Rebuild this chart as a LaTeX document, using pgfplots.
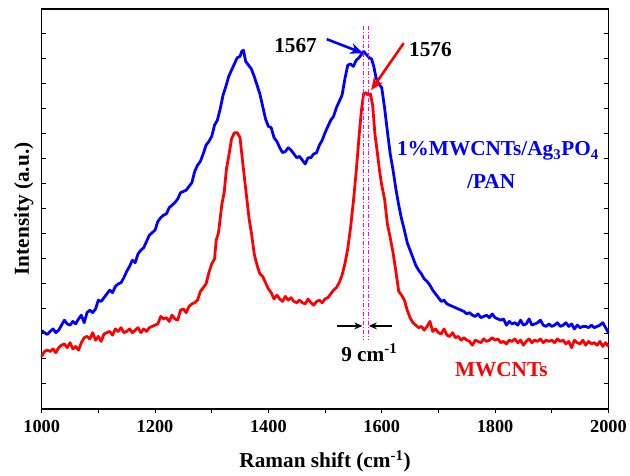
\documentclass[border=0pt]{standalone}
\usepackage{fontspec}
\setmainfont{Liberation Serif}
\usepackage{pgfplots}
\pgfplotsset{compat=1.18}
\usetikzlibrary{arrows.meta}
\definecolor{rblue}{HTML}{0000FF}
\definecolor{rred}{HTML}{FF0000}
\definecolor{rmag}{HTML}{FF00FF}

\pgfplotstableread{
x y
1000 3.13
1005 3.05
1010 2.98
1015 3.10
1020 3.20
1025 3.05
1030 3.15
1035 3.35
1040 3.55
1045 3.40
1050 3.35
1055 3.50
1060 3.40
1065 3.60
1070 3.75
1075 3.45
1080 3.85
1085 3.95
1090 3.85
1095 4.00
1100 4.35
1105 4.30
1110 4.45
1115 4.60
1120 4.75
1125 4.65
1130 4.90
1135 5.00
1140 5.05
1145 5.25
1150 5.50
1155 5.70
1160 5.95
1165 5.85
1170 6.20
1175 6.35
1180 6.45
1185 6.70
1190 6.95
1195 7.05
1200 7.15
1205 7.50
1210 7.65
1215 7.75
1220 7.80
1225 8.05
1230 8.15
1235 8.25
1240 8.40
1245 8.65
1250 8.70
1255 8.75
1260 8.90
1265 9.05
1270 9.50
1275 9.75
1280 9.90
1285 10.20
1290 10.55
1295 10.70
1300 10.90
1305 11.35
1310 11.55
1315 12.00
1320 12.55
1325 12.90
1330 13.30
1335 13.55
1340 13.80
1345 14.05
1350 14.10
1353 14.30
1356 14.35
1360 13.90
1365 13.75
1370 13.60
1375 13.30
1380 12.95
1385 12.60
1390 12.10
1395 11.60
1400 11.30
1405 11.25
1410 10.85
1415 10.70
1420 10.45
1425 10.25
1430 10.30
1435 10.45
1440 10.35
1445 10.20
1450 10.05
1455 10.10
1460 9.95
1465 9.80
1470 10.05
1475 10.05
1480 10.20
1485 10.25
1490 10.55
1495 10.75
1500 11.05
1505 11.30
1510 11.55
1515 11.70
1520 12.05
1525 12.30
1530 12.55
1535 13.20
1540 13.75
1545 13.80
1550 13.70
1555 13.95
1560 14.05
1565 14.20
1568 14.30
1572 14.20
1578 14.05
1582 14.00
1586 13.70
1590 13.25
1595 13.00
1600 12.85
1605 12.05
1610 11.10
1615 10.20
1620 9.55
1625 8.80
1630 8.15
1635 7.60
1640 7.15
1645 6.65
1650 6.35
1655 6.05
1660 5.75
1665 5.55
1670 5.40
1675 5.20
1680 5.10
1685 4.95
1690 4.75
1695 4.60
1700 4.45
1705 4.30
1710 4.35
1715 4.20
1720 4.15
1725 4.10
1730 4.05
1735 4.00
1740 3.95
1745 3.90
1750 3.80
1755 3.85
1760 3.75
1765 3.70
1770 3.80
1775 3.65
1780 3.70
1785 3.75
1790 3.65
1795 3.80
1800 3.65
1805 3.60
1810 3.55
1815 3.60
1820 3.35
1825 3.50
1830 3.40
1835 3.45
1840 3.35
1845 3.55
1850 3.35
1855 3.40
1860 3.60
1865 3.35
1870 3.40
1875 3.45
1880 3.55
1885 3.35
1890 3.30
1895 3.40
1900 3.30
1905 3.35
1910 3.45
1915 3.30
1920 3.35
1925 3.45
1930 3.30
1935 3.40
1940 3.20
1945 3.35
1950 3.25
1955 3.30
1960 3.30
1965 3.25
1970 3.35
1975 3.25
1980 3.30
1985 3.35
1990 3.45
1995 3.25
2000 3.05
}\composite

\pgfplotstableread{
x y
1000 2.10
1005 2.30
1010 2.35
1015 2.30
1020 2.40
1025 2.25
1030 2.45
1035 2.55
1040 2.60
1045 2.45
1050 2.65
1055 2.40
1060 2.50
1065 2.35
1070 2.65
1075 2.85
1080 2.90
1085 2.80
1090 3.05
1095 2.75
1100 2.90
1105 2.70
1110 3.00
1115 3.05
1120 3.10
1125 2.95
1130 3.20
1135 3.10
1140 3.25
1145 3.05
1150 3.10
1155 3.20
1160 3.05
1165 3.15
1170 3.25
1175 3.05
1180 3.20
1185 3.10
1190 3.25
1195 3.30
1200 3.35
1205 3.40
1210 3.70
1215 3.60
1220 3.65
1225 3.50
1230 3.75
1235 3.60
1240 3.55
1245 3.95
1250 4.00
1255 3.85
1260 4.10
1265 4.20
1270 4.25
1275 4.35
1280 4.70
1285 4.85
1290 5.00
1295 5.45
1300 5.80
1305 6.00
1308 6.75
1312 7.05
1318 8.20
1322 8.65
1326 9.60
1330 10.10
1335 10.80
1340 11.05
1345 11.05
1350 10.85
1354 10.00
1358 9.20
1362 8.40
1366 7.60
1370 7.05
1375 6.20
1380 5.75
1385 5.40
1390 5.30
1395 5.05
1400 4.80
1405 4.65
1410 4.40
1415 4.55
1420 4.40
1425 4.30
1430 4.50
1435 4.35
1440 4.45
1445 4.30
1450 4.25
1455 4.35
1460 4.25
1465 4.20
1470 4.40
1475 4.25
1480 4.15
1485 4.30
1490 4.35
1495 4.25
1500 4.40
1505 4.45
1510 4.60
1515 4.75
1520 4.85
1525 5.05
1530 5.35
1535 5.80
1540 6.40
1545 7.25
1550 8.30
1555 9.50
1560 10.90
1564 11.90
1568 12.60
1572 12.65
1576 12.55
1580 12.60
1584 12.15
1588 11.00
1592 10.30
1596 9.55
1600 8.95
1605 8.40
1610 7.40
1615 6.85
1620 6.25
1625 5.50
1630 4.70
1635 4.55
1640 4.35
1645 3.95
1650 3.65
1655 3.45
1660 3.35
1665 3.25
1670 3.30
1675 3.15
1680 3.30
1685 3.50
1690 3.10
1695 3.20
1700 3.05
1705 3.00
1710 3.20
1715 2.95
1720 2.90
1725 3.05
1730 2.85
1735 2.90
1740 2.75
1745 2.85
1750 2.75
1755 2.70
1760 2.55
1765 2.75
1770 2.70
1775 2.65
1780 2.80
1785 2.70
1790 2.75
1795 2.85
1800 2.75
1805 2.80
1810 2.65
1815 2.70
1820 2.60
1825 2.75
1830 2.70
1835 2.80
1840 2.65
1845 2.75
1850 2.55
1855 2.70
1860 2.80
1865 2.65
1870 2.75
1875 2.70
1880 2.80
1885 2.65
1890 2.75
1895 2.70
1900 2.75
1905 2.65
1910 2.80
1915 2.70
1920 2.75
1925 2.60
1930 2.70
1935 2.45
1940 2.75
1945 2.65
1950 2.60
1955 2.75
1960 2.55
1965 2.70
1970 2.60
1975 2.65
1980 2.55
1985 2.70
1990 2.50
1995 2.65
2000 2.50
}\mwcnt

\begin{document}
\begin{tikzpicture}
\begin{axis}[
  at={(0,0)},anchor=south west,
  scale only axis,width=571bp,height=403bp,
  xmin=1000,xmax=2000,ymin=0,ymax=16,
  xtick={1000,1200,...,2000},minor xtick={1100,1300,...,1900},
  ytick={1,...,15},yticklabels={},
  xtick pos=left,ytick pos=both,
  xtick align=outside,ytick align=inside,
  major tick length=4bp,minor tick length=4bp,
  every tick/.style={black,line width=1bp},
  axis line style={line width=1.6bp,black},
  /pgf/number format/assume math mode=true,
  /pgf/number format/1000 sep={},
  xticklabel style={font=\fontsize{18.5}{22}\selectfont\bfseries,yshift=-4bp},
  xlabel={Raman shift (cm\textsuperscript{-1})},
  ylabel={Intensity (a.u.)},
  label style={font=\fontsize{21.5}{24}\selectfont\bfseries},
  xlabel style={at={(axis description cs:0.5,0)},anchor=base,yshift=-59bp},
  ylabel style={at={(axis description cs:0,0.5)},anchor=base,yshift=13bp},
  clip=false]
\addplot[rblue,line width=2.8bp,line join=round] table {\composite};
\addplot[rred,line width=2.8bp,line join=round] table {\mwcnt};
% peak markers
\draw[rmag,line width=0.9bp,dash pattern=on 4bp off 2bp on 1bp off 2bp] (axis cs:1567,15.3) -- (axis cs:1567,2.79);
\draw[rmag,line width=0.9bp,dash pattern=on 4bp off 2bp on 1bp off 2bp] (axis cs:1576,15.3) -- (axis cs:1576,2.79);
\draw[black,line width=1.8bp,-{Stealth[length=8bp,width=7bp]}] (axis cs:1520.7,3.32) -- (axis cs:1565.7,3.32);
\draw[black,line width=1.8bp,-{Stealth[length=8bp,width=7bp]}] (axis cs:1618,3.32) -- (axis cs:1577.4,3.32);
\draw[rblue,line width=2.6bp,-{Stealth[length=13bp,width=11bp]}] (axis cs:1503,14.79) -- (axis cs:1567,14.23);
\draw[rred,line width=2.6bp,-{Stealth[length=13bp,width=11bp]}] (axis cs:1638.7,14.63) -- (axis cs:1581.4,12.75);
\begin{scope}[every node/.style={font=\fontsize{21.5}{24}\selectfont\bfseries,inner sep=0pt,anchor=base}]
\node at (axis cs:1448,14.25) {1567};
\node at (axis cs:1686,14.1) {1576};
\node at (axis cs:1578,1.9) {9 cm\textsuperscript{-1}};
\node[rblue] at (axis cs:1805,10.12) {1\%MWCNTs/Ag\textsubscript{3}PO\textsubscript{4}};
\node[rblue] at (axis cs:1793,8.81) {/PAN};
\node[rred] at (axis cs:1811,1.31) {MWCNTs};
\end{scope}
\end{axis}
\path[use as bounding box] (-42bp,-61bp) rectangle (588bp,412bp);
\end{tikzpicture}
\end{document}
